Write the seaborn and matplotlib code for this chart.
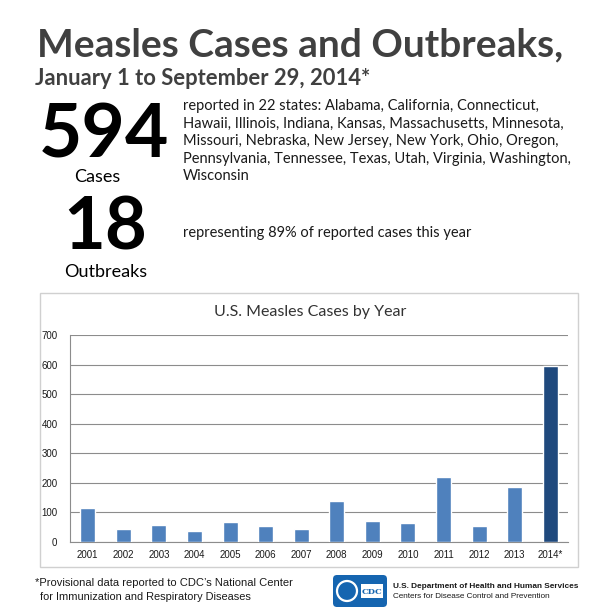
#!/usr/bin/env python
"""
  CDC measles infographic: cases and outbreaks, with cases-by-year bar chart
"""

import matplotlib
matplotlib.use('Agg')
import matplotlib.pyplot as plt
from matplotlib.patches import Rectangle, FancyBboxPatch, Circle
import seaborn as sns
import pandas as pd

years = ["2001", "2002", "2003", "2004", "2005", "2006", "2007",
         "2008", "2009", "2010", "2011", "2012", "2013", "2014*"]
cases = [116, 44, 56, 37, 66, 55, 43, 140, 71, 63, 220, 55, 187, 594]
bar_colors = ["#4f81bd"] * 13 + ["#1f497d"]
y_ticks = [0, 100, 200, 300, 400, 500, 600, 700]

total_cases = "594"
total_outbreaks = "18"
states_lines = [
  "reported in 22 states: Alabama, California, Connecticut,",
  "Hawaii, Illinois, Indiana, Kansas, Massachusetts, Minnesota,",
  "Missouri, Nebraska, New Jersey, New York, Ohio, Oregon,",
  "Pennsylvania, Tennessee, Texas, Utah, Virginia, Washington,",
  "Wisconsin",
]
outbreak_text = "representing 89% of reported cases this year"

W = 616
HEAD = "#404040"
SANS = ["Liberation Sans", "DejaVu Sans"]


def fit_text(fig, ax, x, y, s, width, **kw):
  """ Put text at pixel coords and shrink font so it spans `width` pixels
  """
  t = ax.text(x, y, s, **kw)
  r = fig.canvas.get_renderer()
  w = t.get_window_extent(renderer=r).width
  t.set_fontsize(t.get_fontsize() * width / w)
  return t


def main():
  sns.set_theme(style="white")
  plt.rcParams["font.family"] = ["Lato", "DejaVu Sans"]

  fig = plt.figure(figsize=(6.16, 6.16), dpi=100)

  # overlay in pixel coords for all the infographic text
  ov = fig.add_axes([0, 0, 1, 1])
  ov.set_xlim(0, W)
  ov.set_ylim(W, 0)
  ov.axis("off")

  ov.text(37, 56, "Measles Cases and Outbreaks,", fontsize=28, fontweight="bold",
          color=HEAD, va="baseline")
  fit_text(fig, ov, 35, 85, "January 1 to September 29, 2014*", 337, fontsize=15,
           fontweight="bold", color=HEAD, va="baseline")

  ov.text(104, 157, total_cases, fontsize=54, fontweight="bold", color="black",
          ha="center", va="baseline")
  ov.text(97, 182, "Cases", fontsize=13, color="black", ha="center", va="baseline")
  ov.text(105, 250, total_outbreaks, fontsize=52, fontweight="bold", color="black",
          ha="center", va="baseline")
  ov.text(106, 277, "Outbreaks", fontsize=13, color="black", ha="center", va="baseline")

  for i, line in enumerate(states_lines):
    ov.text(183, 110 + i * 17.6, line, fontsize=10.5, color="#1a1a1a", va="baseline")
  ov.text(183, 237, outbreak_text, fontsize=10.5, color="#1a1a1a", va="baseline")

  # chart frame + title
  ov.add_patch(Rectangle((40, 293), 538, 274, fill=False, ec="#d0d0d0", lw=1))
  ov.text(310, 312, "U.S. Measles Cases by Year", fontsize=11.5, color="#333333",
          ha="center", va="center")

  # footer
  fit_text(fig, ov, 35, 586, "*Provisional data reported to CDC\u2019s National Center", 256,
           fontsize=9, family=SANS, color="#1a1a1a", va="baseline")
  fit_text(fig, ov, 40, 600, "for Immunization and Respiratory Diseases", 212,
           fontsize=9, family=SANS, color="#1a1a1a", va="baseline")
  ov.add_patch(FancyBboxPatch((333, 575), 54, 32, boxstyle="round,pad=0,rounding_size=4",
                              fc="#1565b0", ec="none"))
  ov.add_patch(Circle((347, 591), 10, fill=False, ec="white", lw=1.6))
  ov.add_patch(Rectangle((361, 584), 22, 14, fc="white", ec="none"))
  ov.text(372, 591.5, "CDC", fontsize=6, fontweight="bold", color="#1565b0",
          ha="center", va="center", family="DejaVu Serif")
  fit_text(fig, ov, 393, 586, "U.S. Department of Health and Human Services", 187,
           fontsize=8, fontweight="bold", family=SANS, color="#1a1a1a", va="center")
  fit_text(fig, ov, 393, 597, "Centers for Disease Control and Prevention", 159,
           fontsize=8, family=SANS, color="#1a1a1a", va="center")

  # the bar chart
  ax = fig.add_axes([70 / W, 1 - 542 / W, 498 / W, 207 / W])
  ax.patch.set_alpha(0)
  df = pd.DataFrame({"year": years, "cases": cases})
  sns.barplot(data=df, x="year", y="cases", hue="year", palette=bar_colors,
              legend=False, width=0.42, saturation=1, ax=ax, zorder=3)
  ax.set_xlim(-0.5, len(years) - 0.5)
  ax.set_ylim(0, 700)
  ax.set_yticks(y_ticks)
  ax.set(xlabel="", ylabel="")
  ax.yaxis.grid(True, color="#8c8c8c", lw=0.8, zorder=0)
  ax.xaxis.grid(False)
  for s in ("top", "right"):
    ax.spines[s].set_visible(False)
  for s in ("left", "bottom"):
    ax.spines[s].set_color("#8c8c8c")
    ax.spines[s].set_linewidth(0.8)
  ax.set_xticks([i - 0.5 for i in range(len(years) + 1)], minor=True)
  ax.tick_params(axis="x", which="major", length=0, pad=6, labelsize=7, labelcolor="#1a1a1a")
  ax.tick_params(axis="x", which="minor", length=3, color="#8c8c8c", width=0.8, direction="out")
  ax.tick_params(axis="y", length=3, color="#8c8c8c", width=0.8, direction="out",
                 labelsize=7, labelcolor="#1a1a1a", pad=6)
  for lab in ax.get_xticklabels() + ax.get_yticklabels():
    lab.set_family(SANS)

  fig.savefig("out.png", dpi=100)


if __name__ == "__main__":
  main()
